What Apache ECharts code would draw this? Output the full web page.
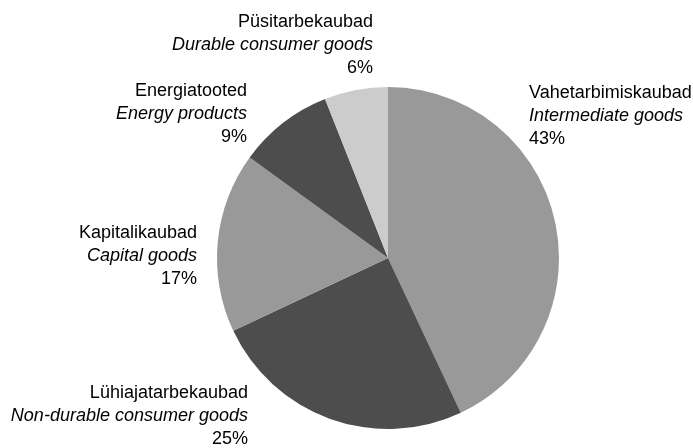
<!DOCTYPE html>
<html>
<head>
<meta charset="utf-8">
<script src="https://cdn.jsdelivr.net/npm/echarts@6/dist/echarts.min.js"></script>
<style>html,body{margin:0;padding:0;background:#fff}#c{width:693px;height:448px}</style>
</head>
<body>
<div id="c"></div>
<script>
const namesEt = ['Vahetarbimiskaubad', 'Lühiajatarbekaubad', 'Kapitalikaubad', 'Energiatooted', 'Püsitarbekaubad'];
const namesEn = ['Intermediate goods', 'Non-durable consumer goods', 'Capital goods', 'Energy products', 'Durable consumer goods'];
const shares = [43, 25, 17, 9, 6];
const colors = ['#999999', '#4d4d4d', '#999999', '#4d4d4d', '#cccccc'];

// label anchor positions (layout only)
const labelPos = [
  {x: 529, y: 116, align: 'left'},
  {x: 248, y: 416, align: 'right'},
  {x: 197, y: 256, align: 'right'},
  {x: 247, y: 114, align: 'right'},
  {x: 373, y: 45, align: 'right'}
];

const chart = echarts.init(document.getElementById('c'), null, {renderer: 'canvas'});
chart.setOption({
  animation: false,
  backgroundColor: '#ffffff',
  series: [{
    type: 'pie',
    center: [388, 258],
    radius: [0, 171],
    startAngle: 90,
    clockwise: true,
    avoidLabelOverlap: false,
    data: shares.map((v, i) => ({
      value: v,
      name: namesEt[i],
      itemStyle: {color: colors[i]},
      label: {align: labelPos[i].align}
    })),
    itemStyle: {borderWidth: 0},
    emphasis: {disabled: true},
    labelLine: {show: false},
    label: {
      show: true,
      position: 'outside',
      fontFamily: 'Liberation Sans, Arial, sans-serif',
      fontSize: 18,
      color: '#000',
      lineHeight: 23,
      formatter: p => '{a|' + namesEt[p.dataIndex] + '}\n{b|' + namesEn[p.dataIndex] + '}\n{a|' + shares[p.dataIndex] + '%}',
      rich: {
        a: {fontFamily: 'Liberation Sans, Arial, sans-serif', fontSize: 18, lineHeight: 23, color: '#000'},
        b: {fontFamily: 'Liberation Sans, Arial, sans-serif', fontSize: 18, lineHeight: 23, fontStyle: 'italic', color: '#000'}
      }
    },
    labelLayout: p => ({
      x: labelPos[p.dataIndex].x,
      y: labelPos[p.dataIndex].y,
      align: labelPos[p.dataIndex].align,
      verticalAlign: 'middle'
    })
  }]
});
</script>
</body>
</html>
